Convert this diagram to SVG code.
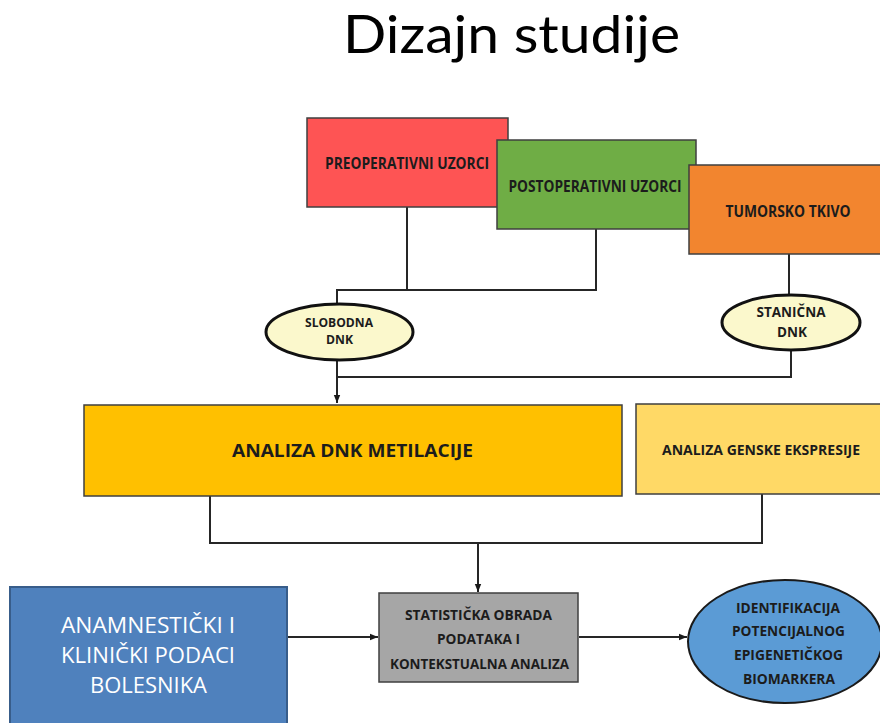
<svg xmlns="http://www.w3.org/2000/svg" width="880" height="723" viewBox="0 0 880 723">
<defs>
<marker id="arr" markerUnits="userSpaceOnUse" markerWidth="8" markerHeight="8" viewBox="0 0 8 8" refX="8" refY="4" orient="auto">
<path d="M0,0.8 L8,4 L0,7.2 Z" fill="#1a1a1a"/>
</marker>
<style>
.t{font-family:"Open Sans","Liberation Sans",sans-serif;font-weight:bold;fill:#1c1c1c;text-anchor:middle}
.w{font-family:"Open Sans","Liberation Sans",sans-serif;fill:#ffffff;text-anchor:middle}
.box{stroke:#3f3f3f;stroke-width:1.5}
.ell{fill:#fbf8cc;stroke:#111111;stroke-width:3}
.c{fill:none;stroke:#262626;stroke-width:2}
</style>
</defs>
<rect width="880" height="723" fill="#ffffff"/>
<text x="511.5" y="53" font-family="Lato,'Liberation Sans',sans-serif" font-size="52" fill="#000000" text-anchor="middle" textLength="337" lengthAdjust="spacingAndGlyphs">Dizajn studije</text>
<g id="connectors">
<polyline class="c" points="407,207 407,290"/>
<polyline class="c" points="596,229 596,290 337,290 337,304"/>
<polyline class="c" points="789,254 789,295"/>
<polyline class="c" points="337,360 337,403" marker-end="url(#arr)"/>
<polyline class="c" points="791,350 791,377 337,377"/>
<polyline class="c" points="210,496 210,543 762,543 762,494"/>
<polyline class="c" points="478,543 478,592" marker-end="url(#arr)"/>
<polyline class="c" points="287,637 378,637" marker-end="url(#arr)"/>
<polyline class="c" points="579,637 687,637" marker-end="url(#arr)"/>
</g>
<g id="preoperativni">
<rect class="box" x="307" y="118" width="201" height="89" fill="#fe5454"/>
<text class="t" x="407" y="169" font-size="16.5" textLength="164" lengthAdjust="spacingAndGlyphs">PREOPERATIVNI UZORCI</text>
</g>
<g id="postoperativni">
<rect class="box" x="497" y="140" width="199" height="89" fill="#6fad45"/>
<text class="t" x="595" y="192" font-size="16" textLength="173" lengthAdjust="spacingAndGlyphs">POSTOPERATIVNI UZORCI</text>
</g>
<g id="tumorsko">
<rect class="box" x="689" y="165" width="195" height="89" fill="#f2852f"/>
<text class="t" x="788" y="217" font-size="16" textLength="125" lengthAdjust="spacingAndGlyphs">TUMORSKO TKIVO</text>
</g>
<g id="slobodna">
<ellipse class="ell" cx="339.5" cy="332" rx="73.5" ry="28"/>
<text class="t" x="339" y="327" font-size="12.5" textLength="68" lengthAdjust="spacingAndGlyphs">SLOBODNA</text>
<text class="t" x="339.5" y="344" font-size="12.5" textLength="27" lengthAdjust="spacingAndGlyphs">DNK</text>
</g>
<g id="stanicna">
<ellipse class="ell" cx="791" cy="322.5" rx="69" ry="27.5"/>
<text class="t" x="791" y="317" font-size="14" textLength="69" lengthAdjust="spacingAndGlyphs">STANIČNA</text>
<text class="t" x="792" y="337" font-size="14" textLength="30" lengthAdjust="spacingAndGlyphs">DNK</text>
</g>
<g id="metilacija">
<rect class="box" x="84" y="405" width="538" height="91" fill="#ffc000" stroke="#2a2a2a"/>
<text class="t" x="352.5" y="457" font-size="18" textLength="241" lengthAdjust="spacingAndGlyphs">ANALIZA DNK METILACIJE</text>
</g>
<g id="ekspresija">
<rect class="box" x="636" y="404" width="248" height="90" fill="#ffd966" stroke="#8a8a8a"/>
<text class="t" x="761" y="455" font-size="14" textLength="198" lengthAdjust="spacingAndGlyphs">ANALIZA GENSKE EKSPRESIJE</text>
</g>
<g id="statisticka">
<rect class="box" x="379" y="593" width="199" height="89" fill="#a6a6a6" stroke="#1f1f1f"/>
<text class="t" x="478.5" y="620" font-size="15" textLength="147" lengthAdjust="spacingAndGlyphs">STATISTIČKA OBRADA</text>
<text class="t" x="478.5" y="644" font-size="15" textLength="83" lengthAdjust="spacingAndGlyphs">PODATAKA I</text>
<text class="t" x="479.5" y="669" font-size="15" textLength="179" lengthAdjust="spacingAndGlyphs">KONTEKSTUALNA ANALIZA</text>
</g>
<g id="anamnesticki">
<rect x="10" y="587" width="277" height="145" fill="#4f81bd" stroke="#385d8a" stroke-width="2"/>
<text class="w" x="148" y="633" font-size="22" textLength="174" lengthAdjust="spacingAndGlyphs">ANAMNESTIČKI I</text>
<text class="w" x="148" y="663" font-size="22" textLength="174" lengthAdjust="spacingAndGlyphs">KLINIČKI PODACI</text>
<text class="w" x="148.5" y="693" font-size="22" textLength="117" lengthAdjust="spacingAndGlyphs">BOLESNIKA</text>
</g>
<g id="identifikacija">
<ellipse cx="785" cy="641.5" rx="97" ry="61.5" fill="#5b9bd5" stroke="#1a1a1a" stroke-width="2"/>
<text class="t" x="788" y="613" font-size="14" textLength="104" lengthAdjust="spacingAndGlyphs">IDENTIFIKACIJA</text>
<text class="t" x="788.5" y="636" font-size="14" textLength="113" lengthAdjust="spacingAndGlyphs">POTENCIJALNOG</text>
<text class="t" x="788.5" y="660" font-size="14" textLength="109" lengthAdjust="spacingAndGlyphs">EPIGENETIČKOG</text>
<text class="t" x="789" y="684" font-size="14" textLength="92" lengthAdjust="spacingAndGlyphs">BIOMARKERA</text>
</g>
</svg>
